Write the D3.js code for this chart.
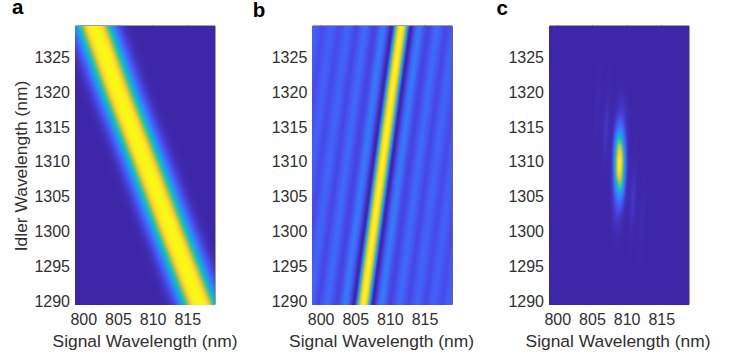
<!DOCTYPE html>
<html>
<head>
<meta charset="utf-8">
<script src="https://cdn.jsdelivr.net/npm/d3@7"></script>
<style>
  html, body { margin: 0; padding: 0; background: #fff; }
  #chart { position: relative; width: 747px; height: 354px; overflow: hidden; }
  canvas { position: absolute; }
  svg { position: absolute; left: 0; top: 0; }
  text { font-family: "Liberation Sans", Arial, sans-serif; fill: #303030; }
</style>
</head>
<body>
<div id="chart"></div>
<script>
// tick labels
const signalTicks = [800, 805, 810, 815];
const idlerTicks = [1290, 1295, 1300, 1305, 1310, 1315, 1320, 1325];

// where the bright ridge sits (signal nm) at these idler wavelengths
const ridgeIdler = [1290, 1300, 1310, 1320, 1330];
const ridgeA = [816.6, 812.7, 808.9, 805.0, 801.4];
const ridgeB = [806.3, 807.65, 809.0, 810.35, 811.75];
const ridgeC = [807.6, 808.3, 809.0, 809.7, 810.4];

// cross sections: distance from ridge (nm) -> colour level
const offsetsA = [0, 0.8, 1.25, 1.55, 1.85, 2.2, 2.6, 2.9, 3.4, 3.9, 4.5, 5.2, 5.8];
const levelsA = [1, 0.97, 0.88, 0.74, 0.6, 0.47, 0.35, 0.27, 0.155, 0.085, 0.03, 0.005, 0];

const offsetsB = [0, 0.3, 0.55, 0.75, 0.95, 1.1, 1.25, 1.45, 1.7, 2.0, 2.3, 2.65, 3.0, 3.4, 3.9, 4.4, 5.0, 5.3, 5.8, 6.4, 6.9, 7.5, 8.0, 8.6, 9.1, 9.7, 10.2, 10.8, 11.4, 12.0, 12.6];
const levelsB = [1, 0.93, 0.78, 0.56, 0.32, 0.12, 0.02, 0, 0.06, 0.14, 0.22, 0.26, 0.21, 0.13, 0.095, 0.13, 0.2, 0.21, 0.16, 0.105, 0.13, 0.19, 0.185, 0.13, 0.115, 0.165, 0.185, 0.14, 0.12, 0.165, 0.185];

// panel c: level along the a ridge distance, and across its own ridge
const offsetsAlongC = [0, 0.5, 0.97, 1.45, 1.9, 2.5, 3.0, 3.7, 4.5, 5.5];
const levelsAlongC = [1, 0.95, 0.8, 0.52, 0.34, 0.18, 0.1, 0.05, 0.015, 0];
const offsetsAcrossC = [0, 0.2, 0.45, 0.7, 0.95, 1.2, 1.45, 1.9, 2.3, 2.8, 3.3, 3.8, 4.4];
const levelsAcrossC = [1, 0.95, 0.72, 0.42, 0.2, 0.06, 0.015, 0.02, 0.06, 0.008, 0.004, 0.02, 0];

const colourStops = ["#3e26a8", "#4852f4", "#2d87f7", "#12b1d6", "#37c897", "#abc739", "#fec338", "#f9fb14"];

const width = 747;
const height = 354;
const plotTop = 25.5;
const plotBottom = 304;
const plotWidth = 139.5;
const panels = [
  { letter: "a", letterX: 12, letterY: 14.3, left: 75, labelX: 145, level: levelA },
  { letter: "b", letterX: 252.7, letterY: 16.5, left: 312.3, labelX: 381.5, level: levelB },
  { letter: "c", letterX: 496.4, letterY: 15, left: 549, labelX: 618, level: levelC }
];

const ridgeAScale = d3.scaleLinear().domain(ridgeIdler).range(ridgeA);
const ridgeBScale = d3.scaleLinear().domain(ridgeIdler).range(ridgeB);
const ridgeCScale = d3.scaleLinear().domain(ridgeIdler).range(ridgeC);
const profileA = d3.scaleLinear().domain(offsetsA).range(levelsA).clamp(true);
const profileB = d3.scaleLinear().domain(offsetsB).range(levelsB).clamp(true);
const alongC = d3.scaleLinear().domain(offsetsAlongC).range(levelsAlongC).clamp(true);
const acrossC = d3.scaleLinear().domain(offsetsAcrossC).range(levelsAcrossC).clamp(true);

function levelA(s, i) { return profileA(Math.abs(s - ridgeAScale(i))); }
function levelB(s, i) { return profileB(Math.abs(s - ridgeBScale(i))); }
function levelC(s, i) {
  return alongC(Math.abs(s - ridgeAScale(i))) * acrossC(Math.abs(s - ridgeCScale(i)));
}

const colour = d3.scaleLinear()
  .domain(colourStops.map((d, i) => i / (colourStops.length - 1)))
  .range(colourStops)
  .interpolate(d3.interpolateRgb);

const y = d3.scaleLinear().domain([1289.47, 1329.5]).range([plotBottom, plotTop]);

const chart = d3.select("#chart");
const svg = chart.append("svg").attr("width", width).attr("height", height);

panels.forEach(p => {
  const x = d3.scaleLinear().domain([798.8, 818.93]).range([p.left, p.left + plotWidth]);

  // heat map cells, one for every pixel of the plot area
  const canvas = chart.append("canvas")
    .attr("width", Math.round(plotWidth))
    .attr("height", Math.round(plotBottom - plotTop))
    .style("left", Math.round(p.left) + "px")
    .style("top", Math.round(plotTop) + "px");
  const ctx = canvas.node().getContext("2d");
  const cols = d3.range(Math.round(plotWidth));
  const rows = d3.range(Math.round(plotBottom - plotTop));
  rows.forEach(r => {
    const idler = y.invert(plotTop + r + 0.5);
    cols.forEach(c => {
      ctx.fillStyle = colour(p.level(x.invert(p.left + c + 0.5), idler));
      ctx.fillRect(c, r, 1, 1);
    });
  });

  const g = svg.append("g");
  const tickColor = "#404040";

  g.append("g")
    .attr("transform", `translate(0,${plotBottom})`)
    .call(d3.axisBottom(x).tickValues(signalTicks).tickSizeInner(-3).tickSizeOuter(0).tickPadding(9.5).tickFormat(d3.format("d")));
  g.append("g")
    .attr("transform", `translate(0,${plotTop})`)
    .call(d3.axisTop(x).tickValues(signalTicks).tickSizeInner(-3).tickSizeOuter(0).tickFormat(""));
  g.append("g")
    .attr("class", "y-left")
    .attr("transform", `translate(${p.left},0)`)
    .call(d3.axisLeft(y).tickValues(idlerTicks).tickSizeInner(-3).tickSizeOuter(0).tickPadding(5).tickFormat(d3.format("d")));
  g.append("g")
    .attr("transform", `translate(${p.left + plotWidth},0)`)
    .call(d3.axisRight(y).tickValues(idlerTicks).tickSizeInner(-3).tickSizeOuter(0).tickFormat(""));

  g.selectAll(".domain, .tick line").attr("stroke", tickColor).attr("stroke-width", 1);
  g.selectAll(".tick text").attr("font-size", 16).attr("font-family", null).attr("fill", "#303030");
  g.selectAll(".y-left .tick text").attr("dy", "0.36em");

  svg.append("text")
    .attr("x", p.labelX)
    .attr("y", 347)
    .attr("text-anchor", "middle")
    .attr("font-size", 17.4)
    .text("Signal Wavelength (nm)");

  svg.append("text")
    .attr("x", p.letterX)
    .attr("y", p.letterY)
    .attr("font-size", 20.5)
    .attr("font-weight", "bold")
    .style("fill", "#000")
    .text(p.letter);
});

svg.append("text")
  .attr("transform", "translate(27,166) rotate(-90)")
  .attr("text-anchor", "middle")
  .attr("font-size", 17.4)
  .text("Idler Wavelength (nm)");
</script>
</body>
</html>
